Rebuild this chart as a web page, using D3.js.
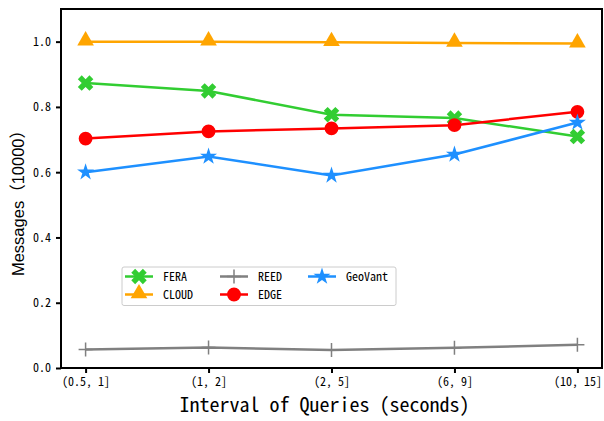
<!DOCTYPE html>
<html>
<head>
<meta charset="utf-8">
<script src="https://cdn.jsdelivr.net/npm/d3@7"></script>
<style>
  html, body { margin: 0; padding: 0; background: #fff; }
  svg { display: block; }
  .mono { font-family: "Noto Sans Mono CJK SC", "Noto Sans CJK SC", "DejaVu Sans Mono", monospace; }
</style>
</head>
<body>
<svg id="chart" width="604" height="421"></svg>
<script>
// Interval buckets on the x axis
const categories = ["(0.5, 1]", "(1, 2]", "(2, 5]", "(6, 9]", "(10, 15]"];
const yTicks = [0.0, 0.2, 0.4, 0.6, 0.8, 1.0];

// Message counts (in units of 10000) per scheme
const fera    = [0.873, 0.849, 0.776, 0.766, 0.709];
const cloud   = [1.000, 1.000, 0.998, 0.996, 0.994];
const reed    = [0.057, 0.063, 0.055, 0.062, 0.071];
const edge    = [0.703, 0.725, 0.734, 0.744, 0.785];
const geovant = [0.600, 0.648, 0.590, 0.654, 0.752];

const seriesNames = ["FERA", "CLOUD", "REED", "EDGE", "GeoVant"];

const series = [
  { name: seriesNames[0], values: fera,    color: "#32CD32", marker: "cross" },
  { name: seriesNames[1], values: cloud,   color: "#FFA500", marker: "triangle" },
  { name: seriesNames[2], values: reed,    color: "#808080", marker: "plus" },
  { name: seriesNames[3], values: edge,    color: "#FF0000", marker: "circle" },
  { name: seriesNames[4], values: geovant, color: "#1E90FF", marker: "star" }
];

const svg = d3.select("#chart");
const plot = { left: 61, right: 602, top: 9, bottom: 368 };

const x = d3.scaleLinear().domain([-0.2, categories.length - 1 + 0.2]).range([plot.left, plot.right]);
const y = d3.scaleLinear().domain([0, 1.1]).range([plot.bottom, plot.top]);

// Marker shapes
const symbolFor = {
  cross:    d3.symbol().type(d3.symbolCross).size(150),
  triangle: d3.symbol().type(d3.symbolTriangle).size(120),
  circle:   d3.symbol().type(d3.symbolCircle).size(150),
  star:     d3.symbol().type(d3.symbolStar).size(90),
};

function drawMarker(g, s, cx, cy) {
  if (s.marker === "plus") {
    g.append("path")
      .attr("d", `M${cx - 7},${cy}H${cx + 7}M${cx},${cy - 7}V${cy + 7}`)
      .attr("stroke", s.color).attr("stroke-width", 1.5).attr("fill", "none");
  } else if (s.marker === "cross") {
    g.append("path")
      .attr("d", symbolFor.cross())
      .attr("transform", `translate(${cx},${cy}) rotate(45)`)
      .attr("fill", s.color);
  } else if (s.marker === "triangle") {
    g.append("path")
      .attr("d", symbolFor.triangle())
      .attr("transform", `translate(${cx},${cy - 1})`)
      .attr("fill", s.color);
  } else {
    g.append("path")
      .attr("d", symbolFor[s.marker]())
      .attr("transform", `translate(${cx},${cy})`)
      .attr("fill", s.color);
  }
}

// Lines and markers
const line = d3.line().x((d, i) => x(i)).y(d => y(d));
series.forEach(s => {
  const g = svg.append("g");
  g.append("path")
    .attr("d", line(s.values))
    .attr("fill", "none")
    .attr("stroke", s.color)
    .attr("stroke-width", 2.5);
  s.values.forEach((v, i) => drawMarker(g, s, x(i), y(v)));
});

// Frame
svg.append("rect")
  .attr("x", plot.left).attr("y", plot.top)
  .attr("width", plot.right - plot.left).attr("height", plot.bottom - plot.top)
  .attr("fill", "none").attr("stroke", "#000").attr("stroke-width", 2);

// Axes
const xAxis = d3.axisBottom(x)
  .tickValues(d3.range(categories.length))
  .tickFormat(i => categories[i])
  .tickSize(5).tickSizeOuter(0).tickPadding(4);
const gx = svg.append("g").attr("transform", `translate(0,${plot.bottom})`).call(xAxis);
gx.select(".domain").remove();
gx.selectAll(".tick line").attr("stroke-width", 2);
gx.selectAll("text").attr("class", "mono").attr("font-size", 12).attr("fill", "#000");

const yAxis = d3.axisLeft(y)
  .tickValues(yTicks)
  .tickFormat(d3.format(".1f"))
  .tickSize(5).tickSizeOuter(0).tickPadding(5);
const gy = svg.append("g").attr("transform", `translate(${plot.left},0)`).call(yAxis);
gy.select(".domain").remove();
gy.selectAll(".tick line").attr("stroke-width", 2);
gy.selectAll("text").attr("class", "mono").attr("font-size", 12).attr("fill", "#000");

// Axis titles
svg.append("text")
  .attr("class", "mono")
  .attr("x", 324.5).attr("y", 412)
  .attr("text-anchor", "middle")
  .attr("font-size", 20)
  .text("Interval of Queries (seconds)");

svg.append("text")
  .attr("transform", "translate(24,199) rotate(-90)")
  .attr("text-anchor", "middle")
  .attr("font-family", "'Liberation Sans', 'Noto Sans CJK SC', sans-serif")
  .attr("font-size", 16.5)
  .text("Messages（10000）");

// Legend
const legend = svg.append("g");
legend.append("rect")
  .attr("x", 122).attr("y", 267).attr("width", 274).attr("height", 38.5)
  .attr("rx", 2).attr("fill", "#fff").attr("stroke", "#ccc").attr("stroke-width", 1);

const legendPos = [
  { x: 125, y: 276.5 }, { x: 125, y: 294.5 },
  { x: 220, y: 276.5 }, { x: 220, y: 294.5 },
  { x: 308, y: 276.5 }
];
series.forEach((s, i) => {
  const p = legendPos[i];
  const g = legend.append("g");
  g.append("line")
    .attr("x1", p.x).attr("x2", p.x + 28).attr("y1", p.y).attr("y2", p.y)
    .attr("stroke", s.color).attr("stroke-width", 2.5);
  drawMarker(g, s, p.x + 14, p.y);
  g.append("text")
    .attr("class", "mono")
    .attr("x", p.x + 38).attr("y", p.y + 4.2)
    .attr("font-size", 12)
    .text(s.name);
});
</script>
</body>
</html>
